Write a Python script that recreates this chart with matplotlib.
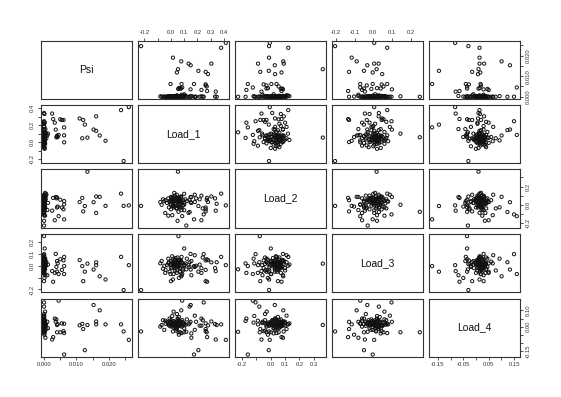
import matplotlib
matplotlib.use("Agg")
import matplotlib.pyplot as plt
import numpy as np

plt.rcParams['font.family'] = ['Liberation Sans', 'DejaVu Sans']

names = ['Psi', 'Load_1', 'Load_2', 'Load_3', 'Load_4']

psi = [0.0262, 0.0246, 0.0238, 0.0190, 0.0172, 0.0161, 0.0153, 0.0161, 0.0134, 0.0118,
       0.0126, 0.0121, 0.0110, 0.0062, 0.0062, 0.0062, 0.0060, 0.0055, 0.0050, 0.0045,
       0.0042, 0.0040, 0.0040, 0.0038, 0.0036, 0.0033, 0.0028, 0.0025, 0.0010, 0.0012,
       0.0000, 0.0000, 0.0000, 0.0002, 0.0001, 0.0000, 0.0000, 0.0001, 0.0000, 0.0003,
       0.0000, 0.0000, 0.0000, 0.0003, 0.0000, 0.0002, 0.0000, 0.0000, 0.0004, 0.0000,
       0.0000, 0.0000,
       0.0000, 0.0001, 0.0000, 0.0002, 0.0000, 0.0000, 0.0003, 0.0000, 0.0001, 0.0000,
       0.0000, 0.0005, 0.0000, 0.0002, 0.0000, 0.0000, 0.0001, 0.0000, 0.0006, 0.0000,
       0.0000, 0.0002, 0.0000, 0.0001, 0.0000, 0.0000, 0.0003, 0.0000, 0.0000, 0.0001,
       0.0000, 0.0004, 0.0000, 0.0000, 0.0002, 0.0000, 0.0000, 0.0001, 0.0000, 0.0007,
       0.0000, 0.0000, 0.0002, 0.0000, 0.0000, 0.0001, 0.0000, 0.0003, 0.0000, 0.0000,
       0.0000, 0.0001, 0.0000]

load_1 = [0.414, -0.225, 0.379, 0.015, 0.078, 0.133, 0.149, 0.305, 0.053, 0.045,
          0.207, 0.262, 0.280, -0.003, 0.080, 0.174, 0.262, 0.262, 0.270, 0.085,
          0.060, 0.070, 0.075, 0.055, 0.148, 0.230, 0.273, 0.338, 0.080, 0.100,
          0.247, 0.116, 0.057, 0.100, 0.333, 0.141, 0.000, 0.060, 0.180, 0.020,
          0.045, 0.010, 0.050, -0.020, 0.217, 0.230, -0.043, 0.154, 0.154, 0.345,
          0.240, 0.180,
          0.030, 0.050, 0.010, 0.070, -0.020, 0.040, 0.090, 0.000, 0.060, 0.020,
          -0.050, 0.110, 0.030, 0.080, -0.010, 0.050, 0.015, 0.065, 0.100, -0.070,
          0.035, 0.000, 0.120, 0.045, -0.030, 0.060, 0.025, 0.090, 0.010, -0.060,
          0.040, 0.075, 0.020, 0.055, -0.080, 0.005, 0.085, 0.030, 0.140, 0.045,
          -0.040, 0.065, 0.020, 0.100, 0.035, 0.000, 0.070, -0.015, 0.050, 0.025,
          0.190, 0.060, -0.005]

load_2 = [-0.007, -0.012, 0.122, -0.012, 0.087, -0.089, 0.028, 0.091, 0.363, 0.075,
          -0.014, -0.073, 0.030, 0.004, 0.040, -0.160, -0.050, -0.030, 0.055, -0.125,
          -0.020, -0.030, 0.080, 0.070, 0.085, -0.170, 0.075, -0.065, -0.058, 0.020,
          -0.106, -0.228, -0.077, 0.000, 0.070, -0.080, 0.050, -0.020, 0.110, -0.028,
          -0.040, -0.115, -0.176, -0.120, 0.060, 0.100, -0.090, 0.020, 0.085, 0.010,
          -0.040, 0.030,
          0.050, 0.040, 0.060, 0.030, 0.070, 0.020, 0.050, 0.010, 0.080, -0.010,
          0.040, 0.060, 0.100, -0.030, 0.030, 0.060, 0.090, 0.010, 0.120, 0.000,
          0.045, -0.050, 0.040, 0.070, 0.020, 0.050, 0.130, -0.010, 0.035, 0.060,
          -0.040, 0.090, 0.000, 0.055, 0.030, 0.075, 0.025, -0.020, 0.050, 0.110,
          0.050, 0.065, 0.040, -0.060, 0.015, 0.085, 0.045, -0.030, 0.030, 0.060,
          0.070, 0.000, 0.045]

load_3 = [0.005, -0.205, 0.075, -0.116, -0.089, 0.005, -0.032, 0.029, 0.018, -0.003,
          -0.050, -0.130, 0.048, -0.070, 0.075, -0.003, 0.045, -0.035, 0.055, -0.070,
          0.020, -0.050, 0.040, -0.010, 0.100, -0.060, -0.135, -0.045, -0.080, 0.010,
          0.098, -0.030, 0.250, 0.146, -0.020, 0.030, -0.130, -0.103, 0.089, 0.060,
          -0.040, 0.020, 0.020, 0.060, 0.010, -0.020, -0.060, 0.040, -0.080, 0.030,
          0.070, -0.010,
          0.010, 0.000, 0.030, -0.020, 0.020, 0.040, -0.030, 0.010, 0.050, -0.010,
          0.000, 0.020, -0.040, 0.030, -0.050, 0.070, 0.015, -0.005, 0.000, 0.040,
          0.025, -0.020, 0.060, -0.060, 0.005, 0.035, 0.010, -0.040, 0.080, -0.025,
          0.015, 0.045, -0.070, 0.005, 0.020, -0.015, 0.025, 0.050, -0.010, 0.030,
          -0.035, 0.010, -0.005, 0.005, 0.065, 0.040, -0.050, 0.030, 0.020, -0.020,
          0.000, 0.035, 0.010]

load_4 = [-0.082, -0.030, 0.014, 0.014, 0.101, 0.014, 0.134, 0.032, 0.010, 0.017,
          -0.146, -0.015, 0.008, 0.018, -0.040, -0.173, -0.028, 0.020, -0.035, 0.161,
          0.015, -0.035, 0.010, 0.045, 0.030, 0.050, -0.065, -0.080, 0.030, -0.010,
          0.150, -0.032, -0.035, -0.035, 0.016, 0.124, 0.030, -0.050, 0.068, 0.093,
          0.078, 0.066, 0.035, 0.025, 0.006, 0.006, 0.037, -0.042, -0.069, 0.010,
          0.040, -0.020,
          0.020, 0.010, 0.000, 0.030, 0.015, -0.010, 0.025, 0.040, 0.005, 0.020,
          -0.020, 0.012, 0.030, 0.000, 0.050, 0.020, -0.030, 0.035, 0.015, 0.010,
          -0.005, 0.025, 0.045, 0.000, 0.030, 0.060, 0.020, 0.005, 0.015, 0.040,
          -0.025, 0.010, 0.020, 0.028, 0.000, 0.010, 0.040, 0.025, 0.020, -0.015,
          0.018, 0.005, 0.035, 0.022, 0.012, 0.030, 0.015, 0.008, 0.050, -0.008,
          0.030, 0.030, 0.002]

# tick positions and the labels R kept
ticks = [
    ([0.0, 0.005, 0.010, 0.015, 0.020, 0.025], ['0.000', '', '0.010', '', '0.020', '']),
    ([-0.2, -0.1, 0.0, 0.1, 0.2, 0.3, 0.4], ['-0.2', '', '0.0', '0.1', '0.2', '0.3', '0.4']),
    ([-0.2, -0.1, 0.0, 0.1, 0.2, 0.3], ['-0.2', '', '0.0', '0.1', '0.2', '0.3']),
    ([-0.2, -0.1, 0.0, 0.1, 0.2], ['-0.2', '-0.1', '0.0', '0.1', '0.2']),
    ([-0.15, -0.10, -0.05, 0.0, 0.05, 0.10, 0.15], ['-0.15', '', '-0.05', '', '0.05', '', '0.15']),
]
yticks = [
    ([0.0, 0.005, 0.010, 0.015, 0.020, 0.025], ['0.000', '', '0.010', '', '0.020', '']),
    ([-0.2, -0.1, 0.0, 0.1, 0.2, 0.3, 0.4], ['-0.2', '', '0.0', '', '0.2', '', '0.4']),
    ([-0.2, -0.1, 0.0, 0.1, 0.2, 0.3], ['-0.2', '', '0.0', '', '0.2', '']),
    ([-0.2, -0.1, 0.0, 0.1, 0.2], ['-0.2', '', '0.0', '0.1', '0.2']),
    ([-0.15, -0.10, -0.05, 0.0, 0.05, 0.10], ['-0.15', '', '', '0.00', '', '0.10']),
]

data = [np.array(psi), np.array(load_1), np.array(load_2), np.array(load_3), np.array(load_4)]
lims = []
for v in data:
    r = v.max() - v.min()
    lims.append((v.min() - 0.04 * r, v.max() + 0.04 * r))

W, H = 561, 397
fig = plt.figure(figsize=(W / 100, H / 100), dpi=100)
col_left = [40.7, 137.7, 234.7, 331.7, 428.7]
row_top = [40.7, 105.0, 169.5, 234.0, 298.5]
pw, ph = 91.5, 58.2
fg = '#333333'

for i in range(5):
    for j in range(5):
        ax = fig.add_axes([col_left[j] / W, 1 - (row_top[i] + ph) / H, pw / W, ph / H])
        for s in ax.spines.values():
            s.set_color(fg)
            s.set_linewidth(0.8)
        ax.set_xlim(lims[j])
        ax.set_ylim(lims[i])
        if i == j:
            ax.text(0.5, 0.5, names[i], transform=ax.transAxes, ha='center', va='center',
                    fontsize=7.5, color='#111111')
        else:
            ax.scatter(data[j], data[i], s=5.5, facecolors='none', edgecolors='#111111',
                       linewidths=0.7)
        ax.tick_params(direction='out', length=2.5, width=0.6, pad=1.5, labelsize=4.2,
                       colors=fg)
        ax.set_xticks([])
        ax.set_yticks([])
        if (i == 0 and j % 2 == 1) or (i == 4 and j % 2 == 0):
            ax.set_xticks(ticks[j][0])
            ax.set_xticklabels(ticks[j][1])
            if i == 0:
                ax.xaxis.tick_top()
        if (j == 0 and i % 2 == 1) or (j == 4 and i % 2 == 0):
            ax.set_yticks(yticks[i][0])
            ax.set_yticklabels(yticks[i][1], rotation=90, va='center')
            if j == 4:
                ax.yaxis.tick_right()

fig.savefig('out.png', dpi=100)
